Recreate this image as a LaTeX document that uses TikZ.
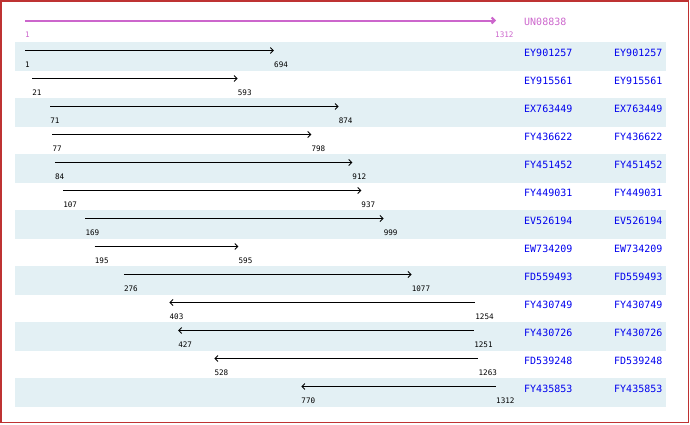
\documentclass[tikz,border=0pt]{standalone}
\usepackage{fontspec}
\newfontfamily\monof{DejaVu Sans Mono}
\usetikzlibrary{arrows.meta}
\definecolor{bandc}{RGB}{227,240,244}
\definecolor{idblue}{RGB}{0,0,238}
\definecolor{magc}{RGB}{204,102,204}
\definecolor{framec}{RGB}{190,50,50}
\tikzset{
  numlab/.style={anchor=base west, inner sep=0pt, font=\monof\fontsize{7.6}{9}\selectfont},
  idtext/.style={anchor=base west, inner sep=0pt, text=idblue, font=\monof\fontsize{10}{12}\selectfont},
  arrfwd/.style={line width=0.9pt, -{Straight Barb[length=3pt,width=6pt]}},
  arrrev/.style={line width=0.9pt, {Straight Barb[length=3pt,width=6pt]}-},
}
\begin{document}
\begin{tikzpicture}[x=1pt,y=-1pt]
\useasboundingbox (0,0) rectangle (690,424);
% frame
\draw[framec, line width=1.5pt] (0.75,0.75) rectangle (688.5,422.5);
% query
\coordinate (q1) at (25,20.5);
\coordinate (q2) at (496,20.5);
\draw[magc, line width=2pt, -{Straight Barb[length=3pt,width=6pt]}] (q1) -- (q2);
\node[numlab, text=magc] (ql1) at (25,37) {1};
\node[numlab, text=magc] (ql2) at (495,37) {1312};
\node[idtext, text=magc] (qid) at (524,25.5) {UN08838};
% hits
\foreach \i/\ida/\a/\b/\dir/\sh in {
  1/EY901257/1/694/arrfwd/1,
  2/EY915561/21/593/arrfwd/0,
  3/EX763449/71/874/arrfwd/1,
  4/FY436622/77/798/arrfwd/0,
  5/FY451452/84/912/arrfwd/1,
  6/FY449031/107/937/arrfwd/0,
  7/EV526194/169/999/arrfwd/1,
  8/EW734209/195/595/arrfwd/0,
  9/FD559493/276/1077/arrfwd/1,
  10/FY430749/403/1254/arrrev/0,
  11/FY430726/427/1251/arrrev/1,
  12/FD539248/528/1263/arrrev/0,
  13/FY435853/770/1312/arrrev/1} {
  \pgfmathsetmacro\rt{42+(\i-1)*28}
  \pgfmathsetmacro\xa{25+(\a-1)*0.359268}
  \pgfmathsetmacro\xb{25+(\b-1)*0.359268}
  \ifnum\sh=1
    \fill[bandc] (15,\rt) rectangle (666,\rt+28.7);
  \fi
  \coordinate (s\i) at (\xa,\rt+8.5);
  \coordinate (e\i) at (\xb,\rt+8.5);
  \draw[\dir] (s\i) -- (e\i);
  \node[numlab] (la\i) at (\xa,\rt+25) {\a};
  \node[numlab] (lb\i) at (\xb,\rt+25) {\b};
  \node[idtext] (ia\i) at (524,\rt+14) {\ida};
  \node[idtext] (ib\i) at (614,\rt+14) {\ida};
}
\end{tikzpicture}
\end{document}
